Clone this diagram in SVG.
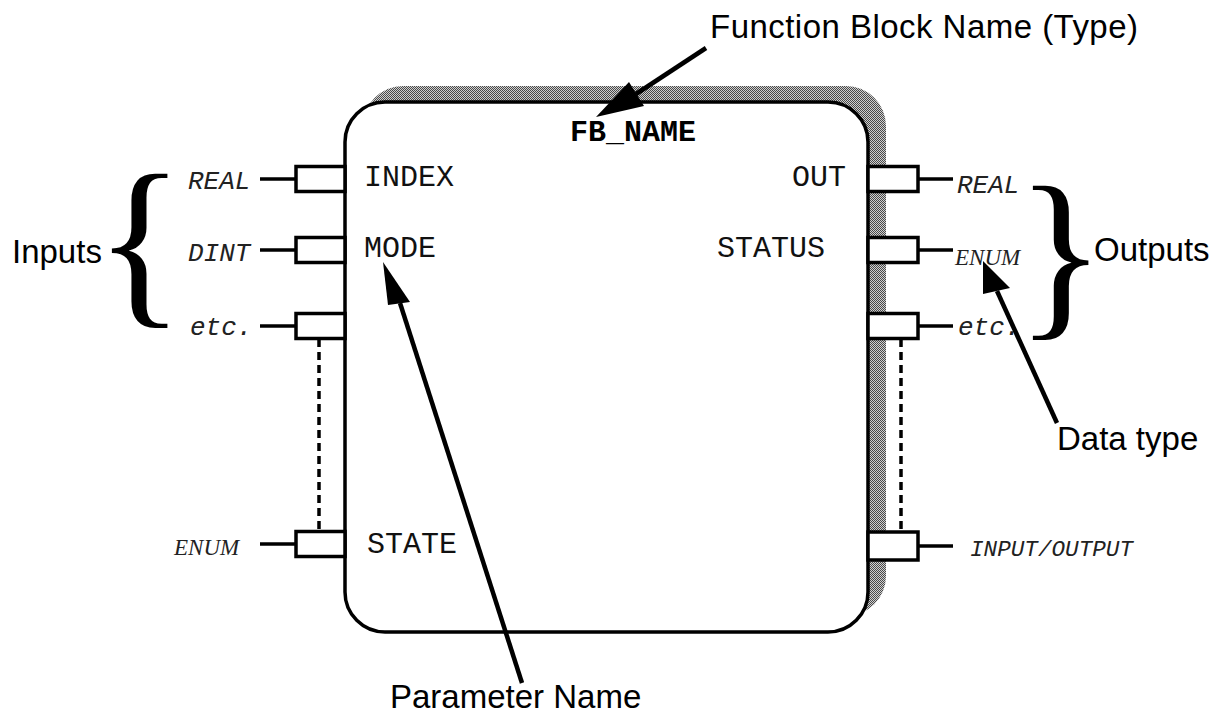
<svg xmlns="http://www.w3.org/2000/svg" width="1222" height="716" viewBox="0 0 1222 716">
  <defs>
    <!-- fine dither used for the drop shadow -->
    <pattern id="dither" width="2" height="2" patternUnits="userSpaceOnUse">
      <rect width="2" height="2" fill="#d0d0d0"/>
      <rect x="0" y="0" width="1" height="1" fill="#4a4a4a"/>
      <rect x="1" y="1" width="1" height="1" fill="#4a4a4a"/>
    </pattern>
  </defs>
  <style>
    .pin { fill: #ffffff; stroke: #000; stroke-width: 3.5; }
    .lead { stroke: #000; stroke-width: 3.5; fill: none; }
    .dash { stroke: #000; stroke-width: 3.5; stroke-dasharray: 8 5; fill: none; }
    .ptr { stroke: #000; stroke-width: 4.5; fill: none; }
    .head { fill: #000; stroke: none; }
    .param { font-family: "Liberation Mono", "Courier New", monospace; font-size: 30px; fill: #111; }
    .type { font-family: "Liberation Mono", "Courier New", monospace; font-style: italic; font-size: 26px; fill: #222; }
    .io { font-family: "Liberation Mono", "Courier New", monospace; font-style: italic; font-size: 22.5px; fill: #222; }
    .enum { font-family: "Liberation Serif", "Times New Roman", serif; font-style: italic; font-size: 23px; fill: #222; }
    .label { font-family: "Liberation Sans", Arial, sans-serif; font-size: 33px; fill: #000; }
    .brace { font-family: "Liberation Serif", "Times New Roman", serif; font-size: 186px; fill: #000; }
  </style>

  <!-- function block body with its shadow -->
  <g id="fb-block">
    <rect x="363" y="86" width="523" height="530" rx="40" ry="40" fill="url(#dither)"/>
    <rect x="345" y="102" width="523" height="530" rx="40" ry="40" fill="#ffffff" stroke="#000" stroke-width="3.5"/>
    <text x="570" y="141" font-family="'Liberation Mono', 'Courier New', monospace" font-weight="bold" font-size="30" fill="#000">FB_NAME</text>
  </g>

  <!-- input pins -->
  <g id="in-index">
    <line class="lead" x1="260" y1="179" x2="296" y2="179"/>
    <rect class="pin" x="296" y="166.5" width="49" height="25"/>
    <text class="type" x="188" y="189">REAL</text>
    <text class="param" x="364" y="186">INDEX</text>
  </g>
  <g id="in-mode">
    <line class="lead" x1="260" y1="250" x2="296" y2="250"/>
    <rect class="pin" x="296" y="237.5" width="49" height="25"/>
    <text class="type" x="188" y="261">DINT</text>
    <text class="param" x="364" y="257">MODE</text>
  </g>
  <g id="in-etc">
    <line class="lead" x1="260" y1="326" x2="296" y2="326"/>
    <rect class="pin" x="296" y="313.5" width="49" height="25"/>
    <text class="type" x="190" y="335">etc.</text>
  </g>
  <g id="in-state">
    <line class="lead" x1="260" y1="544" x2="296" y2="544"/>
    <rect class="pin" x="296" y="531.5" width="49" height="25"/>
    <text class="enum" x="174" y="555">ENUM</text>
    <text class="param" x="367" y="553">STATE</text>
  </g>

  <!-- output pins -->
  <g id="out-out">
    <line class="lead" x1="918" y1="179" x2="953" y2="179"/>
    <rect class="pin" x="868" y="166.5" width="50" height="25"/>
    <text class="type" x="957" y="193">REAL</text>
    <text class="param" x="792" y="186">OUT</text>
  </g>
  <g id="out-status">
    <line class="lead" x1="918" y1="250" x2="953" y2="250"/>
    <rect class="pin" x="868" y="237.5" width="50" height="25"/>
    <text class="enum" x="955" y="265">ENUM</text>
    <text class="param" x="717" y="257">STATUS</text>
  </g>
  <g id="out-etc">
    <line class="lead" x1="918" y1="326" x2="953" y2="326"/>
    <rect class="pin" x="868" y="313.5" width="50" height="25"/>
    <text class="type" x="958" y="335">etc.</text>
  </g>
  <g id="out-inout">
    <line class="lead" x1="918" y1="546" x2="953" y2="546"/>
    <rect class="pin" x="868" y="532" width="50" height="28"/>
    <text class="io" x="970" y="556" textLength="163" lengthAdjust="spacingAndGlyphs">INPUT/OUTPUT</text>
  </g>

  <!-- group braces and their captions -->
  <g id="inputs-group">
    <text class="brace" x="95" y="303">{</text>
    <text class="label" x="12" y="263">Inputs</text>
  </g>
  <g id="outputs-group">
    <text class="brace" x="1016" y="315">}</text>
    <text class="label" x="1094" y="261">Outputs</text>
  </g>

  <!-- callout captions -->
  <g id="caption-type">
    <text class="label" x="710" y="38" textLength="428">Function Block Name (Type)</text>
  </g>
  <g id="caption-param">
    <text class="label" x="390" y="708">Parameter Name</text>
  </g>
  <g id="caption-datatype">
    <text class="label" x="1057" y="450">Data type</text>
  </g>

  <!-- connectors: pin continuations and callout pointers -->
  <g id="connectors">
    <line class="dash" x1="319" y1="339" x2="319" y2="531"/>
    <line class="dash" x1="901" y1="339" x2="901" y2="532"/>

    <line class="ptr" x1="706" y1="48" x2="636" y2="94"/>
    <polygon class="head" points="596,117 629,82 644,106"/>

    <line class="ptr" x1="522" y1="683" x2="400" y2="303"/>
    <polygon class="head" points="383,262 388,305 410,302"/>

    <line class="ptr" x1="1057" y1="423" x2="997" y2="291"/>
    <polygon class="head" points="983,261 983,294 1010,288"/>
  </g>
</svg>
